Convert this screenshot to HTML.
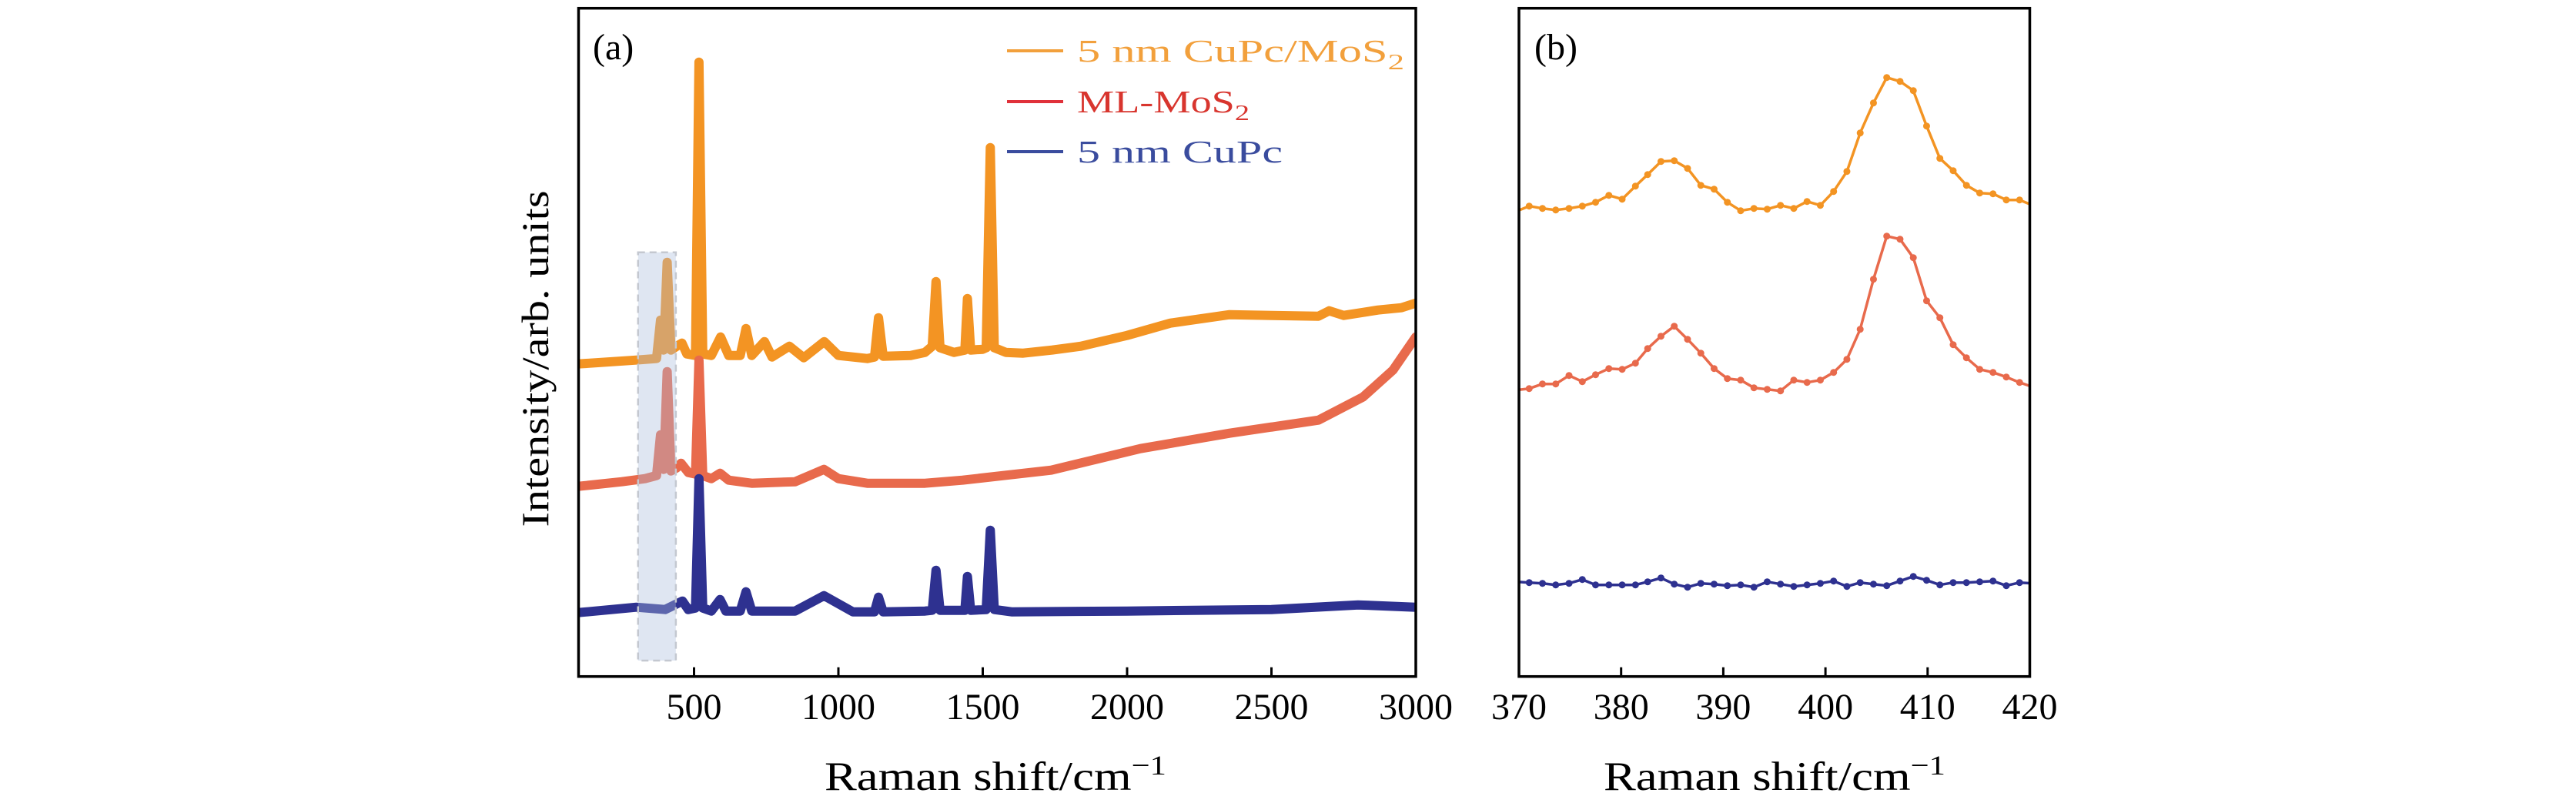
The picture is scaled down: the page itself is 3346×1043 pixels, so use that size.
<!DOCTYPE html>
<html><head><meta charset="utf-8"><style>
html,body{margin:0;padding:0;background:#fff;}
svg{display:block;font-family:"Liberation Serif","DejaVu Serif",serif;}
</style></head><body>
<svg id="chart" width="3346" height="1043" viewBox="0 0 3346 1043" xmlns="http://www.w3.org/2000/svg">
<defs>
<clipPath id="clipA"><rect x="751.5" y="10.7" width="1087.5" height="868"/></clipPath>
<clipPath id="clipB"><rect x="1973" y="10.7" width="663.5" height="868"/></clipPath>
</defs>
<g id="panelA"></g>
<g id="panelB"></g>
<text x="0" y="0" transform="translate(712,466) rotate(-90)" text-anchor="middle" font-size="50" textLength="437" lengthAdjust="spacingAndGlyphs">Intensity/arb. units</text>
<text x="1293" y="1026" text-anchor="middle" font-size="53" textLength="444" lengthAdjust="spacingAndGlyphs">Raman shift/cm<tspan dy="-20" font-size="36">−1</tspan></text>
<text x="2305" y="1026" text-anchor="middle" font-size="53" textLength="444" lengthAdjust="spacingAndGlyphs">Raman shift/cm<tspan dy="-20" font-size="36">−1</tspan></text>
<text x="770" y="77" font-size="48">(a)</text>
<text x="1993" y="77" font-size="48">(b)</text>
<g>
<line x1="1308" y1="66" x2="1381" y2="66" stroke="#f2a03c" stroke-width="4"/>
<text x="1399" y="80" font-size="41" fill="#f2a03c" textLength="425" lengthAdjust="spacingAndGlyphs">5 nm CuPc/MoS<tspan dy="10" font-size="29">2</tspan></text>
<line x1="1308" y1="132" x2="1381" y2="132" stroke="#e0313a" stroke-width="4"/>
<text x="1399" y="146" font-size="41" fill="#d8352e" textLength="224" lengthAdjust="spacingAndGlyphs">ML-MoS<tspan dy="10" font-size="29">2</tspan></text>
<line x1="1308" y1="197" x2="1381" y2="197" stroke="#3a4c9e" stroke-width="4"/>
<text x="1399" y="211" font-size="41" fill="#3a4c9e" textLength="267" lengthAdjust="spacingAndGlyphs">5 nm CuPc</text>
</g>
</svg>
<script>
// ---- Panel (a) data (x: Raman shift cm^-1, y: intensity a.u.) ----
const aTicks = [500, 1000, 1500, 2000, 2500, 3000];
const aOrangeX = [100,300,370,384,395,407,420,440,458,475,505,517,530,560,592,620,660,680,700,744,770,830,880,951,1000,1100,1125,1139,1155,1250,1300,1325,1338,1352,1400,1438,1447,1458,1500,1512,1526,1540,1580,1640,1740,1840,2000,2150,2355,2500,2663,2700,2750,2869,2950,3000];
const aOrangeY = [406,411,413,463,424,538,424,429,433,419,417,798,419,417,441,417,417,452,417,435,415,429,414,435,417,413,415,466,416,417,421,429,513,427,421,424,491,424,425,427,687,427,421,420,424,429,443,459,470,469,468,475,469,476,479,485];
const aRedX = [100,250,330,370,384,395,407,420,440,455,480,505,517,530,560,590,620,700,850,950,1000,1100,1300,1430,1737,2046,2355,2663,2817,2921,3000];
const aRedY = [247,253,257,261,314,269,396,267,271,277,265,263,411,261,257,264,255,251,253,269,257,251,251,255,268,296,316,333,363,398,441];
const aBlueX = [100,300,400,460,480,505,517,530,560,590,610,660,680,700,850,950,1050,1125,1139,1155,1300,1325,1338,1352,1438,1447,1458,1512,1526,1540,1600,2000,2500,2800,3000];
const aBlueY = [83,90,87,98,87,89,257,89,85,100,85,85,110,85,85,105,84,84,103,84,85,86,138,86,86,130,86,87,190,87,84,85,87,93,90];
// ---- Panel (b) data ----
const bTicks = [370, 380, 390, 400, 410, 420];
const bX = [369.7,371.0,372.3,373.6,374.9,376.2,377.5,378.8,380.1,381.4,382.6,383.9,385.2,386.5,387.8,389.1,390.4,391.7,393.0,394.3,395.6,396.9,398.2,399.5,400.8,402.1,403.4,404.7,406.0,407.3,408.6,409.9,411.2,412.5,413.8,415.1,416.4,417.7,419.0,420.3];
const bOrangeY = [604,611,608,606,608,611,616,625,620,637,652,669,670,660,638,633,616,605,608,607,612,608,617,612,630,656,706,745,778,773,761,715,673,657,638,628,627,619,619,612];
const bRedY = [372,374,380,380,391,383,392,400,399,407,426,442,455,438,420,400,387,385,375,373,371,385,382,385,395,412,451,516,572,568,544,488,466,431,414,399,395,389,382,376];
const bBlueY = [123,122,121,119,121,126,119,119,119,119,123,128,120,116,121,120,118,119,116,123,120,117,119,121,124,117,122,120,118,124,130,125,119,122,122,123,124,118,122,121];
const hlRange = [306, 437];
const hlTop = 551;

const NS = "http://www.w3.org/2000/svg";
const yTop = 10.7, yBot = 878.7;
const yScale = v => yBot - v * (yBot - yTop) / 868;
const axA = {x0: 751.5, x1: 1839, d0: 100, d1: 3000};
const axB = {x0: 1973, x1: 2636.5, d0: 370, d1: 420};
const sx = (ax, v) => ax.x0 + (v - ax.d0) * (ax.x1 - ax.x0) / (ax.d1 - ax.d0);

function mk(tag, attrs, parent) {
  const e = document.createElementNS(NS, tag);
  for (const k in attrs) e.setAttribute(k, attrs[k]);
  parent.appendChild(e);
  return e;
}
function line(ax, xs, ys, color, w, parent, name, markers) {
  let d = "";
  xs.forEach((x, i) => { d += (i ? "L" : "M") + sx(ax, x).toFixed(1) + " " + yScale(ys[i]).toFixed(1); });
  const g = mk("g", {}, parent);
  
  
  const p = mk("path", {d: d, fill: "none", stroke: color, "stroke-width": w, "stroke-linejoin": "round", "stroke-linecap": "round"}, g);
  
  
  if (markers) {
    xs.forEach((x, i) => {
      const c = mk("circle", {cx: sx(ax, x), cy: yScale(ys[i]), r: 4.5, fill: color}, g);
      
      
    });
  }
}
function frame(ax, parent, ticks, name) {
  const r = mk("rect", {x: ax.x0, y: yTop, width: ax.x1 - ax.x0, height: yBot - yTop, fill: "none", stroke: "#000", "stroke-width": 3.5}, parent);
  
  
  ticks.forEach(t => {
    const x = sx(ax, t);
    if (t !== ax.d0 && t !== ax.d1) {
      const tk = mk("line", {x1: x, x2: x, y1: yBot, y2: yBot - 12, stroke: "#000", "stroke-width": 3}, parent);
      
      
    }
    const lb = mk("text", {x: x, y: 934, "text-anchor": "middle", "font-size": 48}, parent);
    lb.textContent = t;
    
    
  });
}

const pA = document.getElementById("panelA");
const gA = mk("g", {"clip-path": "url(#clipA)"}, pA);
line(axA, aOrangeX, aOrangeY, "#f39423", 12, gA, "series-cupc-mos2-a", false);
line(axA, aRedX, aRedY, "#e86a4c", 12, gA, "series-ml-mos2-a", false);
line(axA, aBlueX, aBlueY, "#2e3190", 12, gA, "series-cupc-a", false);
const hl = mk("rect", {x: sx(axA, hlRange[0]), y: yScale(hlTop), width: sx(axA, hlRange[1]) - sx(axA, hlRange[0]), height: 858 - yScale(hlTop), fill: "rgba(170,188,222,0.38)", stroke: "#c4c8d0", "stroke-width": 2.5, "stroke-dasharray": "9 6"}, pA);


frame(axA, pA, aTicks, "panel-a");

const pB = document.getElementById("panelB");
const gB = mk("g", {"clip-path": "url(#clipB)"}, pB);
line(axB, bX, bOrangeY, "#f39423", 3.5, gB, "series-cupc-mos2-b", true);
line(axB, bX, bRedY, "#e86a4c", 3.5, gB, "series-ml-mos2-b", true);
line(axB, bX, bBlueY, "#2e3190", 3.5, gB, "series-cupc-b", true);
frame(axB, pB, bTicks, "panel-b");
</script>
</body></html>
